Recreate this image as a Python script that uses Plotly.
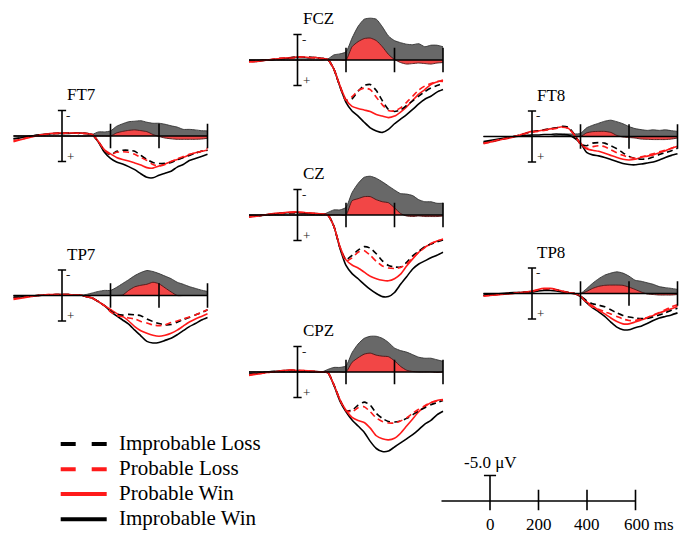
import plotly.graph_objects as go

# ---------------- DATA ----------------
TIME_MS = [-200, -175, -150, -125, -100, -75, -50, -25,
           0, 25, 50, 75, 100, 125, 150, 175,
           200, 225, 250, 275, 300, 325, 350, 375,
           400, 425, 450, 475, 500, 525, 550, 575, 600]

# Amplitudes in microvolts (positive plotted downward)
FCZ_IMP_LOSS = [0.2, 0.2, 0.1, 0.0, -0.1, -0.3, -0.3, -0.5, -0.5, -0.5, -0.6, -0.4, -0.3, -0.1, 1.8, 5.2,
                7.9, 7.6, 6.1, 5.0, 4.8, 6.0, 8.0, 9.7, 10.1, 9.8, 8.9, 8.0, 7.1, 6.2, 5.5, 5.0, 4.6]
FCZ_PROB_LOSS = [0.3, 0.3, 0.1, 0.0, -0.2, -0.3, -0.4, -0.4, -0.5, -0.6, -0.5, -0.4, -0.3, -0.1, 1.8, 5.1,
                 7.9, 7.2, 6.0, 5.5, 5.8, 7.3, 8.8, 9.9, 10.0, 9.4, 8.3, 7.1, 5.9, 5.1, 4.6, 4.2, 4.2]
FCZ_PROB_WIN = [0.4, 0.3, 0.2, 0.0, -0.1, -0.3, -0.4, -0.5, -0.6, -0.6, -0.5, -0.5, -0.3, -0.1, 1.8, 5.0,
                7.8, 9.1, 9.5, 9.8, 10.1, 10.7, 11.0, 11.3, 11.0, 10.2, 9.2, 7.9, 6.7, 5.8, 4.8, 4.3, 3.9]
FCZ_IMP_WIN = [0.2, 0.3, 0.1, 0.0, -0.1, -0.2, -0.3, -0.4, -0.5, -0.5, -0.4, -0.5, -0.3, -0.1, 1.8, 5.2,
               8.3, 10.0, 11.0, 12.2, 13.3, 13.9, 14.2, 13.6, 12.5, 11.6, 10.7, 9.7, 8.6, 7.7, 7.1, 6.3, 5.8]
FCZ_DIFF_IMP = [0, 0, 0, 0, 0, 0, 0, 0, 0, 0, 0, 0, 0, -0.2, -1.0, -1.2,
                -1.6, -4.3, -6.6, -8.0, -8.2, -8.0, -6.5, -4.7, -3.8, -3.4, -3.1, -3.0, -3.2, -2.6, -2.9, -2.9, -2.6]
FCZ_DIFF_PROB = [0, 0, 0, 0, 0, 0, 0, 0, 0, 0, 0, 0, 0, 0, 0, 0,
                 0, -2.6, -3.6, -4.2, -4.3, -3.8, -2.6, -1.1, -0.1, 0.5, 0.8, 0.7, 0.6, 0.7, 0.8, 0.6, 0.5]

CZ_IMP_LOSS = [0.3, 0.2, 0.1, 0.0, -0.2, -0.3, -0.3, -0.4, -0.4, -0.4, -0.3, -0.2, -0.1, 0.0, 2.2, 6.4,
               8.8, 7.9, 6.9, 6.2, 6.5, 7.6, 9.0, 9.9, 10.2, 10.2, 9.3, 8.0, 7.1, 6.2, 5.7, 5.3, 4.9]
CZ_PROB_LOSS = [0.4, 0.2, 0.1, -0.1, -0.2, -0.3, -0.4, -0.5, -0.5, -0.5, -0.4, -0.3, -0.2, 0.0, 2.2, 6.3,
                9.0, 8.4, 7.3, 7.0, 7.9, 9.1, 10.0, 10.4, 10.5, 10.3, 9.6, 8.4, 7.3, 6.4, 5.6, 5.1, 4.7]
CZ_PROB_WIN = [0.4, 0.3, 0.1, -0.1, -0.3, -0.4, -0.5, -0.6, -0.6, -0.5, -0.4, -0.3, -0.2, 0.0, 2.2, 6.2,
               8.8, 9.8, 10.4, 11.2, 12.0, 12.5, 12.8, 12.9, 12.5, 11.6, 10.0, 8.6, 7.3, 6.3, 5.7, 5.1, 4.8]
CZ_IMP_WIN = [0.3, 0.2, 0.1, -0.1, -0.2, -0.3, -0.4, -0.5, -0.5, -0.4, -0.3, -0.3, -0.2, 0.0, 2.2, 6.5,
              9.9, 11.5, 12.5, 13.6, 14.6, 15.4, 16.0, 16.0, 15.2, 13.6, 12.1, 10.6, 9.6, 9.0, 8.4, 7.9, 7.3]
CZ_DIFF_IMP = [0, 0, 0, 0, 0, 0, 0, 0, 0, 0, 0, 0, 0, -0.5, -1.0, -1.0,
               -1.5, -4.4, -6.2, -7.4, -7.6, -7.2, -6.5, -5.7, -4.9, -4.2, -4.1, -3.8, -3.0, -2.6, -2.6, -2.3, -2.3]
CZ_DIFF_PROB = [0, 0, 0, 0, 0, 0, 0, 0, 0, 0, 0, 0, 0, 0, 0, 0,
                0, -2.8, -3.2, -3.6, -3.6, -3.0, -2.6, -2.4, -1.4, -0.3, 0.2, 0.3, 0.2, 0.3, 0.3, 0.3, 0.2]

CPZ_IMP_LOSS = [0.4, 0.3, 0.2, 0.0, -0.1, -0.2, -0.2, -0.3, -0.3, -0.2, -0.1, -0.1, 0.0, 0.1, 2.5, 5.5,
                7.6, 7.5, 6.5, 5.9, 6.5, 8.1, 9.1, 9.7, 9.8, 9.6, 9.1, 8.4, 7.6, 7.0, 6.4, 6.0, 5.6]
CPZ_PROB_LOSS = [0.6, 0.4, 0.3, 0.1, 0.0, -0.2, -0.3, -0.4, -0.3, -0.3, -0.2, -0.1, 0.0, 0.1, 2.5, 5.5,
                 7.6, 7.8, 7.0, 6.8, 7.8, 9.0, 9.7, 10.0, 10.0, 9.6, 9.0, 8.1, 7.3, 6.6, 6.0, 5.7, 5.5]
CPZ_PROB_WIN = [0.7, 0.5, 0.3, 0.1, 0.0, -0.2, -0.3, -0.4, -0.3, -0.3, -0.2, -0.1, 0.0, 0.1, 2.5, 5.4,
                7.5, 8.9, 9.5, 9.9, 11.0, 12.5, 13.1, 13.3, 13.0, 12.0, 10.6, 9.2, 7.8, 6.8, 6.0, 5.6, 5.4]
CPZ_IMP_WIN = [0.5, 0.4, 0.2, 0.0, -0.1, -0.2, -0.3, -0.3, -0.2, -0.2, -0.1, -0.1, 0.0, 0.1, 2.6, 5.7,
               7.8, 9.4, 10.6, 11.8, 13.6, 15.0, 15.6, 15.5, 14.7, 13.9, 13.1, 12.3, 11.3, 10.2, 9.5, 8.4, 7.7]
CPZ_DIFF_IMP = [0, 0, 0, 0, 0, 0, 0, 0, 0, 0, 0, 0, 0, -0.5, -0.9, -0.9,
                -1.2, -3.8, -5.5, -6.6, -7.0, -7.0, -6.6, -5.8, -4.7, -4.2, -3.9, -3.4, -2.9, -2.7, -2.7, -2.4, -2.1]
CPZ_DIFF_PROB = [0, 0, 0, 0, 0, 0, 0, 0, 0, 0, 0, 0, 0, 0, 0, 0,
                 0, -1.9, -2.8, -3.5, -3.7, -3.3, -3.1, -3.0, -2.2, -1.1, -0.35, -0.1, 0, 0, 0, 0.1, 0]

FT7_IMP_LOSS = [0.6, 0.4, 0.2, 0.0, -0.2, -0.3, -0.4, -0.5, -0.5, -0.6, -0.6, -0.5, -0.5, -0.3, 1.1, 2.9,
                3.7, 3.0, 2.8, 2.8, 3.0, 3.8, 4.6, 5.2, 5.4, 5.35, 5.2, 4.7, 4.2, 3.8, 3.4, 3.0, 2.8]
FT7_PROB_LOSS = [0.9, 0.7, 0.4, 0.1, -0.1, -0.3, -0.4, -0.5, -0.5, -0.6, -0.6, -0.5, -0.5, -0.3, 1.1, 2.8,
                 3.6, 3.2, 3.1, 3.2, 3.6, 4.2, 4.8, 5.6, 5.9, 5.6, 5.0, 4.5, 4.0, 3.6, 3.3, 3.0, 2.4]
FT7_PROB_WIN = [1.1, 0.8, 0.5, 0.2, -0.1, -0.3, -0.5, -0.6, -0.6, -0.6, -0.6, -0.6, -0.5, -0.3, 1.1, 2.7,
                3.5, 4.2, 4.6, 4.9, 5.3, 5.7, 6.2, 6.3, 5.9, 5.5, 5.0, 4.6, 4.2, 3.7, 3.3, 3.0, 2.8]
FT7_IMP_WIN = [0.5, 0.4, 0.2, 0.0, -0.2, -0.3, -0.4, -0.5, -0.5, -0.5, -0.6, -0.6, -0.5, -0.3, 1.2, 3.2,
               4.4, 5.1, 5.5, 6.0, 6.6, 7.4, 8.1, 8.2, 7.7, 7.3, 6.9, 6.1, 5.6, 4.8, 4.4, 4.0, 3.6]
FT7_DIFF_IMP = [0, 0, 0, 0, 0, 0, 0, 0, 0, 0, 0, 0, 0, -0.3, -0.8, -0.8,
                -1.0, -1.9, -2.4, -2.8, -2.9, -3.0, -2.7, -2.5, -2.5, -2.3, -2.0, -1.75, -1.3, -1.3, -1.2, -1.05, -1.0]
FT7_DIFF_PROB = [0, 0, 0, 0, 0, 0, 0, 0, 0, 0, 0, 0, 0, 0, 0, 0,
                 0, -0.6, -0.9, -1.1, -1.2, -1.05, -0.85, -0.3, 0.1, 0.4, 0.55, 0.65, 0.65, 0.65, 0.65, 0.6, 0.45]

FT8_IMP_LOSS = [1.2, 1.0, 0.8, 0.5, 0.3, 0.0, -0.3, -0.6, -0.9, -1.1, -1.3, -1.5, -1.7, -2.0, -1.8, -0.4,
                1.5, 1.8, 1.3, 1.2, 1.3, 1.8, 2.4, 3.2, 3.9, 4.3, 4.45, 4.4, 4.0, 3.55, 3.15, 2.8, 2.3]
FT8_PROB_LOSS = [1.3, 1.1, 0.8, 0.5, 0.3, 0.0, -0.3, -0.6, -0.9, -1.0, -1.2, -1.4, -1.6, -1.8, -1.6, -0.3,
                 1.5, 2.3, 2.0, 1.8, 2.0, 2.6, 3.2, 3.7, 4.1, 4.25, 4.0, 3.7, 3.4, 3.0, 2.7, 2.3, 1.9]
FT8_PROB_WIN = [1.4, 1.1, 0.9, 0.6, 0.4, 0.1, -0.3, -0.7, -1.0, -1.1, -1.3, -1.5, -1.7, -1.9, -1.6, -0.3,
                1.3, 2.4, 2.7, 2.9, 3.3, 3.7, 4.1, 4.45, 4.6, 4.45, 4.1, 3.85, 3.6, 3.2, 2.8, 2.3, 1.9]
FT8_IMP_WIN = [1.0, 0.8, 0.6, 0.4, 0.2, 0.0, -0.1, -0.2, -0.3, -0.3, -0.4, -0.4, -0.5, -0.4, -0.3, 0.3,
               1.3, 3.1, 3.6, 3.8, 4.1, 4.5, 4.9, 5.3, 5.5, 5.55, 5.4, 5.2, 5.0, 4.6, 4.1, 3.7, 3.4]
FT8_DIFF_IMP = [0, 0, 0, 0, 0, 0, 0, 0, 0, 0, 0, 0, -0.3, -0.5, -0.5, -0.5,
                -0.6, -1.7, -2.2, -2.6, -3.0, -3.2, -2.9, -2.5, -1.95, -1.55, -1.35, -1.2, -1.3, -1.2, -1.3, -1.15, -1.0]
FT8_DIFF_PROB = [0, 0, 0, 0, 0, 0, 0, 0, 0, 0, 0, 0, 0, 0, 0, 0,
                 0, -0.7, -0.95, -1.0, -1.0, -0.8, -0.2, 0.1, 0.2, 0.3, 0.5, 0.55, 0.6, 0.6, 0.6, 0.5, 0.3]

TP7_IMP_LOSS = [0.4, 0.3, 0.2, 0.1, 0.0, -0.1, -0.1, -0.2, -0.2, -0.2, -0.1, -0.1, 0.2, 0.5, 1.2, 2.0,
                3.0, 3.7, 3.85, 3.7, 3.8, 3.95, 4.6, 5.1, 5.5, 5.75, 5.7, 5.25, 4.7, 4.3, 3.8, 3.4, 2.8]
TP7_PROB_LOSS = [0.6, 0.5, 0.3, 0.1, 0.0, -0.1, -0.2, -0.2, -0.2, -0.2, -0.1, -0.1, 0.2, 0.5, 1.2, 2.0,
                 3.2, 3.9, 4.15, 4.4, 4.6, 5.1, 5.4, 5.8, 5.9, 5.75, 5.3, 5.0, 4.6, 4.2, 3.8, 3.3, 2.8]
TP7_PROB_WIN = [0.8, 0.6, 0.4, 0.2, 0.0, -0.1, -0.2, -0.2, -0.2, -0.2, -0.1, -0.1, 0.2, 0.5, 1.2, 2.0,
                2.75, 3.5, 4.1, 5.0, 6.1, 6.9, 7.4, 7.8, 8.0, 7.8, 7.4, 6.8, 6.0, 5.2, 4.6, 4.1, 3.6]
TP7_IMP_WIN = [0.3, 0.3, 0.2, 0.1, 0.0, -0.1, -0.1, -0.2, -0.2, -0.2, -0.1, -0.1, 0.2, 0.5, 1.2, 2.0,
               3.1, 4.0, 4.8, 5.6, 6.8, 7.9, 9.0, 9.3, 9.2, 8.8, 8.4, 7.7, 6.9, 6.1, 5.5, 4.8, 4.3]
TP7_DIFF_IMP = [0, 0, 0, 0, 0, 0, 0, 0, 0, 0, 0, 0, -0.2, -0.5, -0.8, -1.0,
                -1.0, -1.6, -2.35, -3.1, -3.9, -4.5, -4.9, -4.7, -4.3, -3.8, -3.3, -2.6, -2.2, -1.75, -1.4, -1.05, -0.8]
TP7_DIFF_PROB = [0, 0, 0, 0, 0, 0, 0, 0, 0, 0, 0, 0, 0, 0, 0, 0,
                 0, 0, -0.1, -1.0, -1.7, -2.0, -2.2, -2.6, -2.3, -1.5, -0.7, 0, 0, 0, 0, 0, 0]

TP8_IMP_LOSS = [0.4, 0.3, 0.2, 0.1, 0.0, -0.1, -0.2, -0.3, -0.4, -0.6, -0.8, -0.8, -0.7, -0.4, -0.2, 0.0,
                0.5, 1.4, 2.0, 2.3, 2.6, 3.2, 3.8, 4.3, 4.6, 4.8, 4.9, 4.9, 4.6, 4.2, 3.8, 3.3, 2.9]
TP8_PROB_LOSS = [0.5, 0.4, 0.3, 0.1, 0.0, -0.1, -0.2, -0.3, -0.4, -0.7, -0.9, -0.9, -0.7, -0.4, -0.2, 0.0,
                 0.5, 1.8, 2.7, 3.1, 3.6, 4.0, 4.5, 5.0, 5.3, 5.3, 5.0, 4.7, 4.2, 3.7, 3.2, 2.6, 2.2]
TP8_PROB_WIN = [0.5, 0.4, 0.3, 0.2, 0.1, 0.0, -0.2, -0.3, -0.5, -0.8, -1.0, -1.0, -0.8, -0.5, -0.2, 0.0,
                0.5, 1.6, 2.4, 3.3, 4.0, 4.8, 5.5, 5.95, 5.95, 5.6, 5.2, 4.8, 4.3, 3.8, 3.4, 3.0, 2.5]
TP8_IMP_WIN = [0.3, 0.2, 0.1, 0.0, -0.1, -0.2, -0.2, -0.3, -0.3, -0.5, -0.6, -0.6, -0.5, -0.3, -0.1, 0.0,
               0.6, 1.8, 2.8, 3.6, 4.5, 5.6, 6.6, 7.1, 7.1, 6.7, 6.4, 5.9, 5.3, 4.8, 4.5, 4.2, 3.8]
TP8_DIFF_IMP = [0, 0, 0, 0, 0, 0, 0, 0, 0, 0, 0, 0, 0, 0, 0, 0,
                0, -0.95, -2.0, -2.9, -3.6, -4.0, -4.25, -4.0, -3.4, -2.6, -2.4, -2.1, -1.8, -1.35, -1.15, -1.0, -0.8]
TP8_DIFF_PROB = [0, 0, 0, 0, 0, 0, 0, 0, 0, 0, 0, 0, 0, 0, 0, 0,
                 0, -0.4, -1.0, -1.4, -1.6, -1.65, -1.65, -1.6, -1.25, -0.8, -0.3, 0.1, 0.2, 0.3, 0.3, 0.3, 0.2]

ELECTRODES = ["FT7", "FCZ", "FT8", "CZ", "TP7", "CPZ", "TP8"]
WAVES = {
    "FT7": (FT7_IMP_LOSS, FT7_PROB_LOSS, FT7_PROB_WIN, FT7_IMP_WIN, FT7_DIFF_IMP, FT7_DIFF_PROB),
    "FCZ": (FCZ_IMP_LOSS, FCZ_PROB_LOSS, FCZ_PROB_WIN, FCZ_IMP_WIN, FCZ_DIFF_IMP, FCZ_DIFF_PROB),
    "FT8": (FT8_IMP_LOSS, FT8_PROB_LOSS, FT8_PROB_WIN, FT8_IMP_WIN, FT8_DIFF_IMP, FT8_DIFF_PROB),
    "CZ": (CZ_IMP_LOSS, CZ_PROB_LOSS, CZ_PROB_WIN, CZ_IMP_WIN, CZ_DIFF_IMP, CZ_DIFF_PROB),
    "TP7": (TP7_IMP_LOSS, TP7_PROB_LOSS, TP7_PROB_WIN, TP7_IMP_WIN, TP7_DIFF_IMP, TP7_DIFF_PROB),
    "CPZ": (CPZ_IMP_LOSS, CPZ_PROB_LOSS, CPZ_PROB_WIN, CPZ_IMP_WIN, CPZ_DIFF_IMP, CPZ_DIFF_PROB),
    "TP8": (TP8_IMP_LOSS, TP8_PROB_LOSS, TP8_PROB_WIN, TP8_IMP_WIN, TP8_DIFF_IMP, TP8_DIFF_PROB),
}
CONDITIONS = ["Improbable Loss", "Probable Loss", "Probable Win", "Improbable Win"]
PANEL_TICKS_MS = [200, 400, 600]
SCALE_UV = 5.0
KEY_TICKS_MS = [0, 200, 400, 600]
KEY_TICK_TEXT = ["0", "200", "400", "600 ms"]
KEY_SCALE_TEXT = "-5.0 \u03bcV"

# ---------------- LAYOUT / STYLE ----------------
W, H = 686, 536
PX_PER_MS = 0.2425
PX_PER_UV = 5.1
X_RANGE = (-215, 615)
PANEL_Y = (-10, 17)
KEY_Y = (-10, 6)
# zero-ms x pixel and baseline y pixel of each panel
PANEL_POS = {"FT7": (62, 136), "FCZ": (297.5, 60), "FT8": (532, 136.5),
             "CZ": (297.5, 215), "TP7": (62, 295.5), "CPZ": (297.5, 372), "TP8": (532, 293.5)}
KEY_POS = (490, 501)
FONT = "Liberation Serif, Times New Roman, serif"
COND_STYLE = [("#000000", "6px,4px"), ("#ff1a1a", "6px,4px"), ("#ff1a1a", "solid"), ("#000000", "solid")]
DRAW_ORDER = [3, 2, 0, 1]


def domains(pos, yr):
    x0, y0 = pos
    left = x0 + X_RANGE[0] * PX_PER_MS
    right = x0 + X_RANGE[1] * PX_PER_MS
    top = y0 + yr[0] * PX_PER_UV
    bottom = y0 + yr[1] * PX_PER_UV
    return [left / W, right / W], [1 - bottom / H, 1 - top / H]


fig = go.Figure()
shapes, annotations, layout_axes = [], [], {}


def line_shape(xr, yr, x0, x1, y0, y1, width=1.6, color="black", dash="solid"):
    return dict(type="line", xref=xr, yref=yr, x0=x0, x1=x1, y0=y0, y1=y1,
                line=dict(color=color, width=width, dash=dash), layer="above")


for i, name in enumerate(ELECTRODES):
    n = "" if i == 0 else str(i + 1)
    xid, yid = "x" + n, "y" + n
    dx, dy = domains(PANEL_POS[name], PANEL_Y)
    layout_axes["xaxis" + n] = dict(domain=dx, range=list(X_RANGE), visible=False, anchor=yid, fixedrange=True)
    layout_axes["yaxis" + n] = dict(domain=dy, range=[PANEL_Y[1], PANEL_Y[0]], visible=False, anchor=xid,
                                    fixedrange=True)
    il, pl, pw, iw, d_imp, d_prob = WAVES[name]
    fig.add_trace(go.Scatter(x=TIME_MS, y=d_imp, mode="lines", fill="tozeroy", fillcolor="#686868",
                             line=dict(color="#333333", width=0.9, shape="spline", smoothing=0.6),
                             xaxis=xid, yaxis=yid, showlegend=False, hoverinfo="skip"))
    fig.add_trace(go.Scatter(x=TIME_MS, y=d_prob, mode="lines", fill="tozeroy", fillcolor="#f24646",
                             line=dict(color="#4a1515", width=0.9, shape="spline", smoothing=0.6),
                             xaxis=xid, yaxis=yid, showlegend=False, hoverinfo="skip"))
    series = [il, pl, pw, iw]
    for k in DRAW_ORDER:
        color, dash = COND_STYLE[k]
        fig.add_trace(go.Scatter(x=TIME_MS, y=series[k], mode="lines", name=CONDITIONS[k],
                                 line=dict(color=color, width=1.6, dash=dash, shape="spline", smoothing=0.6),
                                 xaxis=xid, yaxis=yid, showlegend=False, hoverinfo="skip"))
    # baseline, ticks, scale bar
    shapes.append(line_shape(xid, yid, TIME_MS[0], TIME_MS[-1], 0, 0))
    for t in PANEL_TICKS_MS:
        shapes.append(line_shape(xid, yid, t, t, -2.4, 2.4))
    shapes.append(line_shape(xid, yid, 0, 0, -SCALE_UV, SCALE_UV))
    for s in (-SCALE_UV, SCALE_UV):
        shapes.append(line_shape(xid, yid, -17, 17, s, s))
    annotations.append(dict(x=13, y=-8.1, xref=xid, yref=yid, text=name, showarrow=False,
                            xanchor="left", yanchor="middle", font=dict(family=FONT, size=17, color="black")))
    annotations.append(dict(x=26, y=-4.1, xref=xid, yref=yid, text="-", showarrow=False,
                            xanchor="center", yanchor="middle", font=dict(family=FONT, size=13, color="#222222")))
    annotations.append(dict(x=36, y=4.0, xref=xid, yref=yid, text="+", showarrow=False,
                            xanchor="center", yanchor="middle", font=dict(family=FONT, size=13, color="#222222")))

# scale key axis
kx, ky = "x8", "y8"
dx, dy = domains(KEY_POS, KEY_Y)
layout_axes["xaxis8"] = dict(domain=dx, range=list(X_RANGE), visible=False, anchor=ky, fixedrange=True)
layout_axes["yaxis8"] = dict(domain=dy, range=[KEY_Y[1], KEY_Y[0]], visible=False, anchor=kx, fixedrange=True)
shapes.append(line_shape(kx, ky, TIME_MS[0], KEY_TICKS_MS[-1], 0, 0))
shapes.append(line_shape(kx, ky, 0, 0, -SCALE_UV, 1.8))
shapes.append(line_shape(kx, ky, -25, 25, -SCALE_UV, -SCALE_UV))
for t in KEY_TICKS_MS[1:]:
    shapes.append(line_shape(kx, ky, t, t, -2.2, 1.8))
annotations.append(dict(x=0, y=-7.5, xref=kx, yref=ky, text=KEY_SCALE_TEXT, showarrow=False,
                        xanchor="center", yanchor="middle", font=dict(family=FONT, size=17, color="black")))
for t, txt in zip(KEY_TICKS_MS, KEY_TICK_TEXT):
    if txt.endswith("ms"):
        annotations.append(dict(x=t - 57, y=4.7, xref=kx, yref=ky, text=txt, showarrow=False,
                                xanchor="left", yanchor="middle", font=dict(family=FONT, size=17, color="black")))
    else:
        annotations.append(dict(x=t, y=4.7, xref=kx, yref=ky, text=txt, showarrow=False,
                                xanchor="center", yanchor="middle", font=dict(family=FONT, size=17, color="black")))

# legend (drawn manually, order as in the reference)
LEGEND_ROWS_PX = [444, 469.3, 494, 519.3]
for k, ypx in enumerate(LEGEND_ROWS_PX):
    color, dash = COND_STYLE[k]
    shapes.append(dict(type="line", xref="paper", yref="paper", x0=60.7 / W, x1=106.7 / W,
                       y0=1 - ypx / H, y1=1 - ypx / H,
                       line=dict(color=color, width=4, dash=("15px,16px" if dash != "solid" else "solid"))))
    annotations.append(dict(x=117 / W, y=1 - (ypx - 1) / H, xref="paper", yref="paper", text=CONDITIONS[k],
                            showarrow=False, xanchor="left", yanchor="middle",
                            font=dict(family=FONT, size=21, color="black")))

fig.update_layout(width=W, height=H, margin=dict(l=0, r=0, t=0, b=0, pad=0),
                  paper_bgcolor="white", plot_bgcolor="white", showlegend=False,
                  shapes=shapes, annotations=annotations, **layout_axes)
fig.write_html("out.html", config={"displayModeBar": False})
